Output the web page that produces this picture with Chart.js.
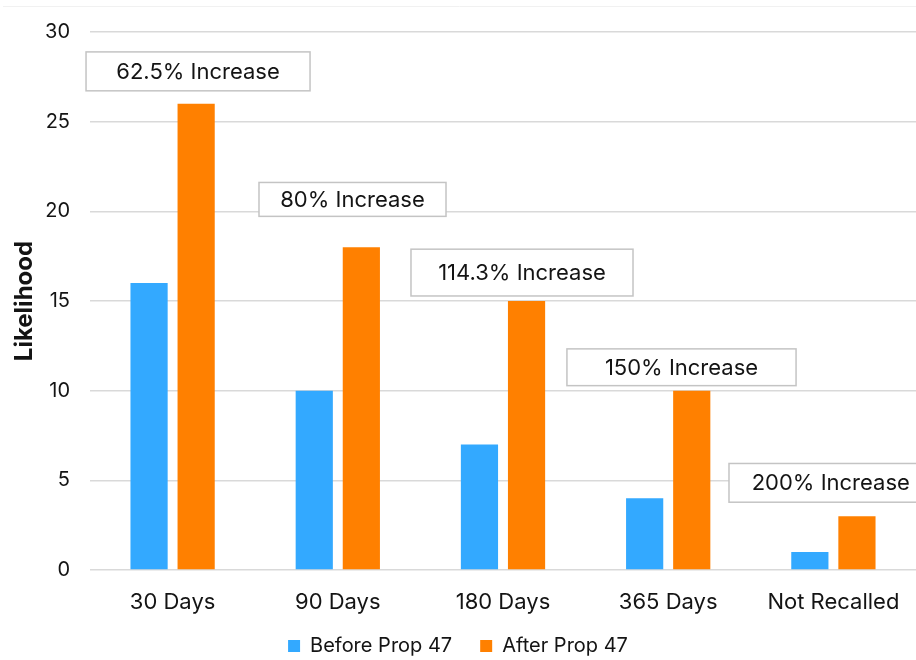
<!DOCTYPE html>
<html>
<head>
<meta charset="utf-8">
<script src="https://cdn.jsdelivr.net/npm/chart.js@4.4.1/dist/chart.umd.min.js"></script>
<style>
  html, body { margin: 0; padding: 0; background: #ffffff; }
  #wrap { width: 916px; height: 660px; }
</style>
</head>
<body>
<div id="wrap"><canvas id="chart" width="916" height="660"></canvas></div>
<script>
// Likelihood by time window, before and after Prop 47
const categories = ['30 Days', '90 Days', '180 Days', '365 Days', 'Not Recalled'];
const beforeProp47 = [16, 10, 7, 4, 1];
const afterProp47 = [26, 18, 15, 10, 3];
const seriesNames = ['Before Prop 47', 'After Prop 47'];
const yTickValues = [0, 5, 10, 15, 20, 25, 30];

// Callout boxes: x in category-index units, y in likelihood units
const calloutBoxes = [
  { xFrom: -0.524, xTo: 0.832, yFrom: 26.72, yTo: 28.89 },
  { xFrom: 0.523, xTo: 1.655, yFrom: 19.72, yTo: 21.61 },
  { xFrom: 1.443, xTo: 2.787, yFrom: 15.28, yTo: 17.89 },
  { xFrom: 2.387, xTo: 3.774, yFrom: 10.28, yTo: 12.33 },
  { xFrom: 3.368, xTo: 4.600, yFrom: 3.78, yTo: 5.94 }
];

const FONT = 'Inter, "Liberation Sans", Arial, sans-serif';
const BLUE = '#33a9ff';
const ORANGE = '#ff8000';
const INK = '#141414';
const GRID = '#d9d9d9';

function increaseText(i) {
  const pct = (afterProp47[i] - beforeProp47[i]) / beforeProp47[i] * 100;
  return (+pct.toFixed(1)) + '% Increase';
}

// faint frame line along the top of the chart
const framePlugin = {
  id: 'frameLine',
  beforeDraw(chart) {
    const { ctx, width } = chart;
    ctx.save();
    ctx.strokeStyle = '#f1f1f1';
    ctx.lineWidth = 1;
    ctx.beginPath();
    ctx.moveTo(3, 6.5);
    ctx.lineTo(width, 6.5);
    ctx.stroke();
    ctx.restore();
  }
};

const calloutPlugin = {
  id: 'increaseCallouts',
  afterDatasetsDraw(chart) {
    const { ctx, scales: { x, y } } = chart;
    ctx.save();
    calloutBoxes.forEach((b, i) => {
      const left = x.getPixelForValue(b.xFrom);
      const right = x.getPixelForValue(b.xTo);
      const top = y.getPixelForValue(b.yTo);
      const bottom = y.getPixelForValue(b.yFrom);
      ctx.fillStyle = '#ffffff';
      ctx.fillRect(left, top, right - left, bottom - top);
      ctx.strokeStyle = '#c4c4c4';
      ctx.lineWidth = 1.5;
      ctx.strokeRect(left, top, right - left, bottom - top);
      ctx.fillStyle = INK;
      ctx.font = '22px ' + FONT;
      ctx.textAlign = 'center';
      ctx.textBaseline = 'middle';
      const cx = (left + right) / 2;
      ctx.fillText(increaseText(i), cx, (top + bottom) / 2 + 1);
    });
    ctx.restore();
  }
};

new Chart(document.getElementById('chart'), {
  type: 'bar',
  data: {
    labels: categories,
    datasets: [
      { label: seriesNames[0], data: beforeProp47, backgroundColor: BLUE },
      { label: seriesNames[1], data: afterProp47, backgroundColor: ORANGE }
    ]
  },
  options: {
    responsive: false,
    animation: false,
    devicePixelRatio: 1,
    categoryPercentage: 0.57,
    barPercentage: 0.79,
    layout: { padding: { top: 31, right: 0, bottom: -6, left: 0 } },
    plugins: {
      tooltip: { enabled: false },
      legend: {
        position: 'bottom',
        labels: {
          color: INK,
          font: { family: FONT, size: 20 },
          boxWidth: 12,
          boxHeight: 12,
          padding: 28
        }
      }
    },
    scales: {
      x: {
        grid: { display: false, drawTicks: false },
        border: { display: false },
        ticks: { color: INK, font: { family: FONT, size: 22 }, padding: 19, maxRotation: 0 },
        afterFit(scale) {
          scale.height = 38;
          scale.paddingLeft = 0;
          scale.paddingRight = 0;
          // let the category labels extend below the compact axis box
          scale._computeLabelArea = () => undefined;
        }
      },
      y: {
        min: 0,
        max: 30,
        afterBuildTicks(scale) { scale.ticks = yTickValues.map(v => ({ value: v })); },
        grid: { color: GRID, lineWidth: 1.5, drawTicks: false },
        border: { display: false },
        ticks: { color: INK, font: { family: FONT, size: 20 }, padding: 20 },
        title: {
          display: true,
          text: 'Likelihood',
          color: INK,
          font: { family: FONT, size: 24, weight: 'bold' },
          padding: { top: 10, bottom: 0 }
        },
        afterFit(scale) { scale.width = 90; }
      }
    }
  },
  plugins: [framePlugin, calloutPlugin]
});
</script>
</body>
</html>
